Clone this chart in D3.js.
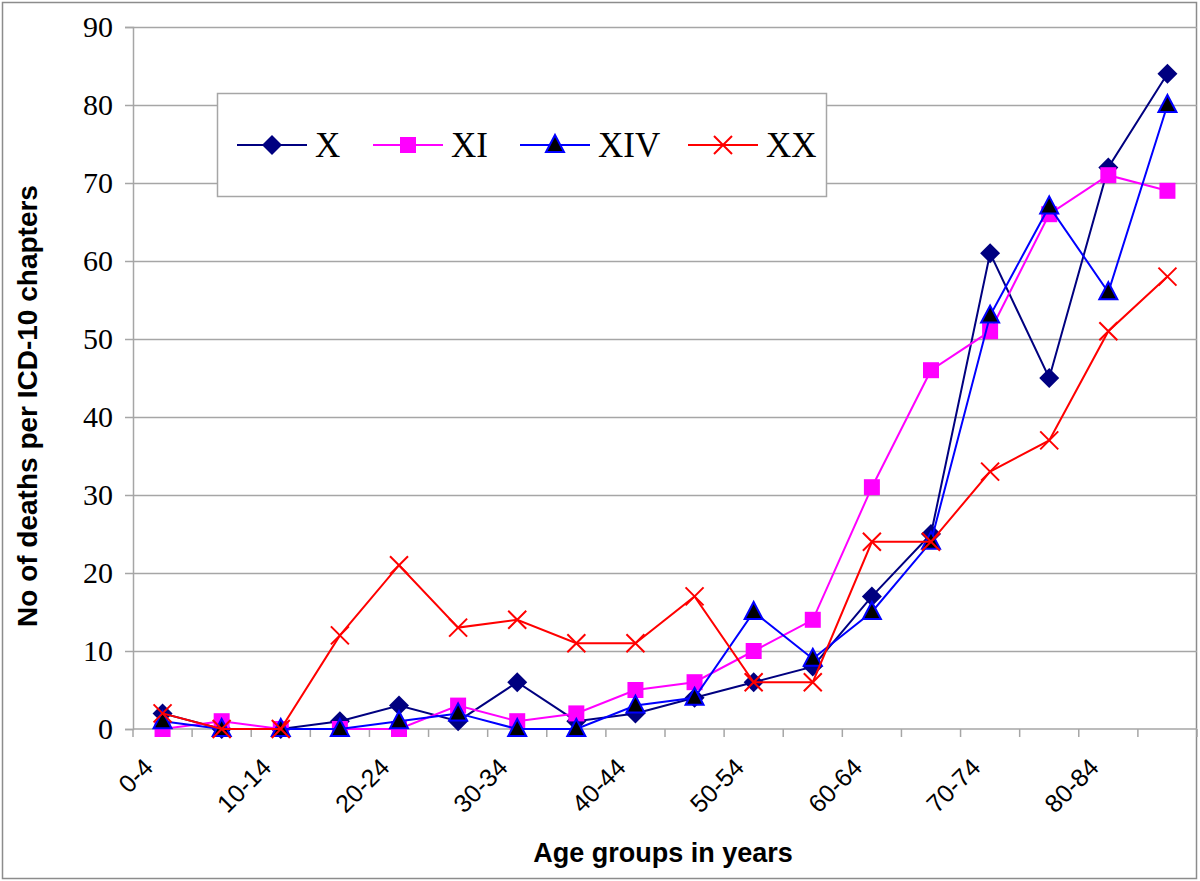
<!DOCTYPE html>
<html>
<head>
<meta charset="utf-8">
<script src="https://cdn.jsdelivr.net/npm/d3@7"></script>
<style>
  body { margin: 0; background: #fff; }
  svg { display: block; }
</style>
</head>
<body>
<div id="chart"></div>
<script>
// Age groups on the x axis (only every other one is labelled)
const ageGroups = ['0-4', '5-9', '10-14', '15-19', '20-24', '25-29', '30-34', '35-39',
  '40-44', '45-49', '50-54', '55-59', '60-64', '65-69', '70-74', '75-79', '80-84', '85+'];
const xTickLabels = ['0-4', '10-14', '20-24', '30-34', '40-44', '50-54', '60-64', '70-74', '80-84'];
const yTicks = [0, 10, 20, 30, 40, 50, 60, 70, 80, 90];

// Deaths per ICD-10 chapter
const chapterX = [2, 0, 0, 1, 3, 1, 6, 1, 2, 4, 6, 8, 17, 25, 61, 45, 72, 84];
const chapterXI = [0, 1, 0, 0, 0, 3, 1, 2, 5, 6, 10, 14, 31, 46, 51, 66, 71, 69];
const chapterXIV = [1, 0, 0, 0, 1, 2, 0, 0, 3, 4, 15, 9, 15, 24, 53, 67, 56, 80];
const chapterXX = [2, 0, 0, 12, 21, 13, 14, 11, 11, 17, 6, 6, 24, 24, 33, 37, 51, 58];

const seriesNames = ['X', 'XI', 'XIV', 'XX'];

const totalWidth = 1200;
const totalHeight = 881;
const plot = { left: 133, right: 1197, top: 27, bottom: 729 };
const gridColor = '#a6a6a6';

const series = [
  { name: seriesNames[0], values: chapterX, color: '#000080', marker: 'diamond' },
  { name: seriesNames[1], values: chapterXI, color: '#ff00ff', marker: 'square' },
  { name: seriesNames[2], values: chapterXIV, color: '#0000ff', marker: 'triangle' },
  { name: seriesNames[3], values: chapterXX, color: '#ff0000', marker: 'cross' },
];

// marker outlines, centred on 0,0
const markerPath = (type) => {
  if (type === 'diamond') return 'M0,-10L10,0L0,10L-10,0Z';
  if (type === 'square') return 'M-8,-8H8V8H-8Z';
  if (type === 'triangle') return 'M0,-10L9,7L-9,7Z';
  return 'M-9,-9L9,9M-9,9L9,-9';
};

const drawMarker = (sel, s) => {
  sel
    .append('path')
    .attr('d', markerPath(s.marker))
    .attr('fill', s.marker === 'cross' ? 'none' : s.marker === 'triangle' ? '#000' : s.color)
    .attr('stroke', s.color)
    .attr('stroke-width', s.marker === 'triangle' || s.marker === 'cross' ? 2 : 0);
};

const xScale = d3.scaleBand().domain(ageGroups).range([plot.left, plot.right]).padding(0);
const xCenter = (d) => xScale(d) + xScale.bandwidth() / 2;
const yScale = d3.scaleLinear().domain([0, 90]).range([plot.bottom, plot.top]);

const svg = d3
  .select('#chart')
  .append('svg')
  .attr('width', totalWidth)
  .attr('height', totalHeight);

// outer frame
svg
  .append('rect')
  .attr('x', 2.5)
  .attr('y', 2.5)
  .attr('width', 1194)
  .attr('height', 876)
  .attr('fill', '#fff')
  .attr('stroke', '#8c8c8c')
  .attr('stroke-width', 1.5);

// y axis with gridlines
const yAxis = svg
  .append('g')
  .attr('transform', `translate(${plot.left},0)`)
  .call(d3.axisLeft(yScale).tickValues(yTicks).tickSize(8).tickPadding(12));
yAxis.select('.domain').attr('stroke', gridColor).attr('stroke-width', 1.5);
yAxis.selectAll('.tick line').attr('stroke', gridColor).attr('stroke-width', 1.5);
yAxis
  .selectAll('.tick')
  .filter((d) => d !== 0)
  .append('line')
  .attr('x1', 0)
  .attr('x2', plot.right - plot.left)
  .attr('stroke', gridColor)
  .attr('stroke-width', 1.5);
yAxis
  .selectAll('.tick text')
  .attr('font-family', '"Liberation Serif", "Times New Roman", serif')
  .attr('font-size', 30)
  .attr('fill', '#000');

// x axis: baseline, boundary ticks, rotated labels
const xAxis = svg.append('g');
xAxis
  .append('line')
  .attr('x1', plot.left)
  .attr('x2', plot.right)
  .attr('y1', yScale(0))
  .attr('y2', yScale(0))
  .attr('stroke', gridColor)
  .attr('stroke-width', 1.5);
xAxis
  .selectAll('.xtick')
  .data(ageGroups.concat(['end']))
  .join('line')
  .attr('class', 'xtick')
  .attr('x1', (d) => (d === 'end' ? plot.right : xScale(d)))
  .attr('x2', (d) => (d === 'end' ? plot.right : xScale(d)))
  .attr('y1', yScale(0))
  .attr('y2', yScale(0) + 8)
  .attr('stroke', gridColor)
  .attr('stroke-width', 1.5);
xAxis
  .selectAll('.xlabel')
  .data(xTickLabels)
  .join('text')
  .attr('class', 'xlabel')
  .attr('transform', (d) => `translate(${xCenter(d) - 8},${yScale(0) + 40}) rotate(-45)`)
  .attr('text-anchor', 'end')
  .attr('font-family', '"Liberation Sans", Arial, sans-serif')
  .attr('font-size', 25)
  .attr('fill', '#000')
  .text((d) => d);

// axis titles
svg
  .append('text')
  .attr('x', 663)
  .attr('y', 862)
  .attr('text-anchor', 'middle')
  .attr('font-family', '"Liberation Sans", Arial, sans-serif')
  .attr('font-weight', 'bold')
  .attr('font-size', 27)
  .text('Age groups in years');

svg
  .append('text')
  .attr('transform', 'translate(37,406) rotate(-90)')
  .attr('text-anchor', 'middle')
  .attr('font-family', '"Liberation Sans", Arial, sans-serif')
  .attr('font-weight', 'bold')
  .attr('font-size', 28)
  .text('No of deaths per ICD-10 chapters');

// lines and markers
const line = d3
  .line()
  .x((d, i) => xCenter(ageGroups[i]))
  .y((d) => yScale(d));

series.forEach((s) => {
  const g = svg.append('g');
  g.append('path')
    .attr('d', line(s.values))
    .attr('fill', 'none')
    .attr('stroke', s.color)
    .attr('stroke-width', 2);
  g.selectAll('g.pt')
    .data(s.values)
    .join('g')
    .attr('class', 'pt')
    .attr('transform', (d, i) => `translate(${xCenter(ageGroups[i])},${yScale(d)})`)
    .each(function () {
      drawMarker(d3.select(this), s);
    });
});

// legend
const legend = svg.append('g');
legend
  .append('rect')
  .attr('x', 217.5)
  .attr('y', 93.5)
  .attr('width', 609)
  .attr('height', 103)
  .attr('fill', '#fff')
  .attr('stroke', gridColor)
  .attr('stroke-width', 1.5);

const legendX = [237, 373, 520, 688];
series.forEach((s, i) => {
  const item = legend.append('g').attr('transform', `translate(${legendX[i]},145)`);
  item
    .append('line')
    .attr('x1', 0)
    .attr('x2', 70)
    .attr('stroke', s.color)
    .attr('stroke-width', 2);
  drawMarker(item.append('g').attr('transform', 'translate(35,0)'), s);
  item
    .append('text')
    .attr('x', 78)
    .attr('y', 12)
    .attr('font-family', '"Liberation Serif", "Times New Roman", serif')
    .attr('font-size', 35)
    .attr('fill', '#000')
    .text(s.name);
});
</script>
</body>
</html>
